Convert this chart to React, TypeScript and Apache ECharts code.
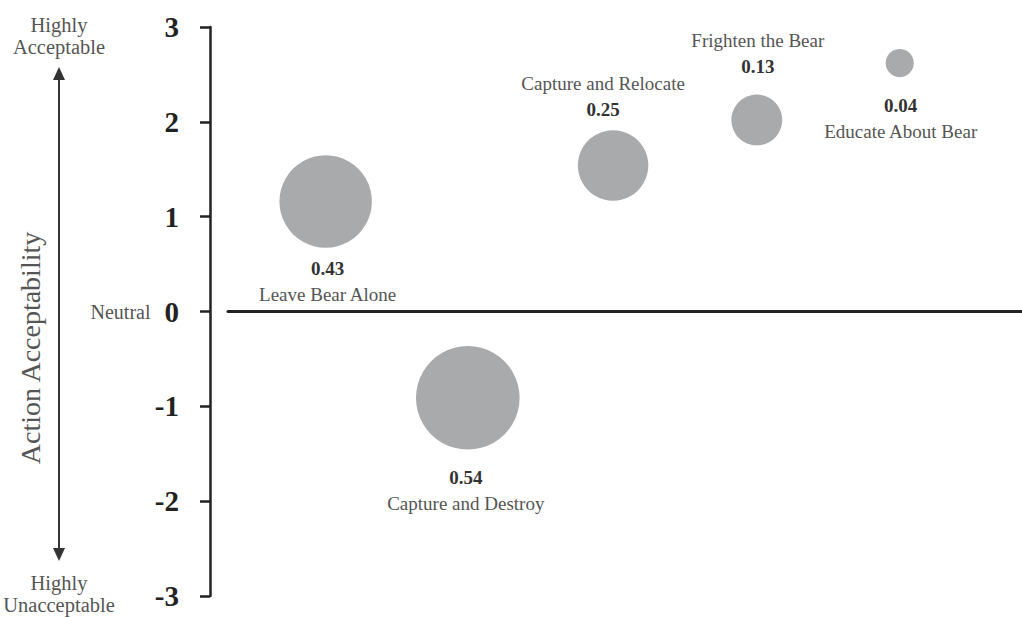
import React, { useEffect, useRef } from "react";
import * as echarts from "echarts";

const actions = [
  "Leave Bear Alone",
  "Capture and Destroy",
  "Capture and Relocate",
  "Frighten the Bear",
  "Educate About Bear",
];
const xPositions = [12.3, 30.2, 48.5, 66.6, 84.6];
const acceptability = [1.16, -0.91, 1.54, 2.02, 2.62];
const proportions = [0.43, 0.54, 0.25, 0.13, 0.04];
const yTickMin = -3;
const yTickMax = 3;

const FONT = "'Liberation Serif', 'Times New Roman', serif";

const labelPlacement: { pos: "top" | "bottom"; dist: number; dx: number }[] = [
  { pos: "bottom", dist: 8, dx: 2 },
  { pos: "bottom", dist: 15, dx: -2 },
  { pos: "top", dist: 8, dx: -10 },
  { pos: "top", dist: 15, dx: 1 },
  { pos: "bottom", dist: 15, dx: 1 },
];

export default function App() {
  const ref = useRef<HTMLDivElement>(null);
  useEffect(() => {
    if (!ref.current) return;
    const chart = echarts.init(ref.current, null, { renderer: "svg" });
    const data = actions.map((name, i) => {
      const p = labelPlacement[i];
      const v = proportions[i].toFixed(2);
      const fmt =
        p.pos === "top" ? `{n|${name}}\n{v|${v}}` : `{v|${v}}\n{n|${name}}`;
      return {
        name,
        value: [xPositions[i], acceptability[i], proportions[i]],
        label: {
          show: true,
          position: p.pos,
          distance: p.dist,
          offset: [p.dx, 0],
          formatter: fmt,
          rich: {
            n: {
              fontFamily: FONT,
              fontSize: 19,
              fontWeight: "normal",
              color: "#555",
              lineHeight: 26,
            },
            v: {
              fontFamily: FONT,
              fontSize: 19,
              fontWeight: "bold",
              color: "#333",
              lineHeight: 26,
            },
          },
        },
      };
    });
    chart.setOption({
      animation: false,
      backgroundColor: "#fff",
      grid: { left: 228, right: 0, top: 27, bottom: 21, containLabel: false },
      xAxis: {
        type: "value",
        min: 0,
        max: 100,
        axisLine: { show: true, onZero: true, lineStyle: { color: "#222", width: 3 } },
        axisTick: { show: false },
        axisLabel: { show: false },
        splitLine: { show: false },
      },
      yAxis: {
        type: "value",
        min: yTickMin,
        max: yTickMax,
        interval: 1,
        offset: 18,
        axisLine: { show: true, onZero: false, lineStyle: { color: "#222", width: 2.5 } },
        axisTick: { show: true, length: 10, lineStyle: { color: "#222", width: 2.5 } },
        splitLine: { show: false },
        axisLabel: {
          margin: 31,
          fontFamily: FONT,
          fontSize: 29,
          fontWeight: "bold",
          color: "#222",
          formatter: (val: number) =>
            val === 0 ? `{n|Neutral}{b|0}` : `{b|${val}}`,
          rich: {
            n: {
              fontFamily: FONT,
              fontSize: 20,
              fontWeight: "normal",
              color: "#555",
              padding: [0, 14, 0, 0],
            },
            b: { fontFamily: FONT, fontSize: 29, fontWeight: "bold", color: "#222" },
          },
        },
      },
      series: [
        {
          type: "scatter",
          data,
          symbolSize: (val: number[]) => 141 * Math.sqrt(val[2]),
          itemStyle: { color: "#a9aaac", opacity: 1 },
          emphasis: { disabled: true },
        },
      ],
      graphic: [
        {
          type: "text",
          silent: true,
          x: 30,
          y: 348,
          rotation: Math.PI / 2,
          style: {
            text: "Action Acceptability",
            fontFamily: FONT,
            fontSize: 28,
            fill: "#555",
            align: "center",
            verticalAlign: "middle",
          },
        },
        {
          type: "text",
          silent: true,
          x: 59,
          y: 36,
          style: {
            text: "Highly\nAcceptable",
            fontFamily: FONT,
            fontSize: 20.5,
            lineHeight: 22,
            fill: "#555",
            align: "center",
            verticalAlign: "middle",
          },
        },
        {
          type: "text",
          silent: true,
          x: 59,
          y: 594,
          style: {
            text: "Highly\nUnacceptable",
            fontFamily: FONT,
            fontSize: 20.5,
            lineHeight: 22,
            fill: "#555",
            align: "center",
            verticalAlign: "middle",
          },
        },
        {
          type: "line",
          silent: true,
          shape: { x1: 59, y1: 76, x2: 59, y2: 552 },
          style: { stroke: "#333", lineWidth: 2 },
        },
        {
          type: "polygon",
          silent: true,
          shape: { points: [[59, 67], [53, 80], [65, 80]] },
          style: { fill: "#333" },
        },
        {
          type: "polygon",
          silent: true,
          shape: { points: [[59, 561], [53, 548], [65, 548]] },
          style: { fill: "#333" },
        },
      ],
    });
    return () => chart.dispose();
  }, []);
  return (
    <div
      ref={ref}
      style={{ position: "fixed", left: 0, top: 0, width: 1022, height: 617 }}
    />
  );
}
